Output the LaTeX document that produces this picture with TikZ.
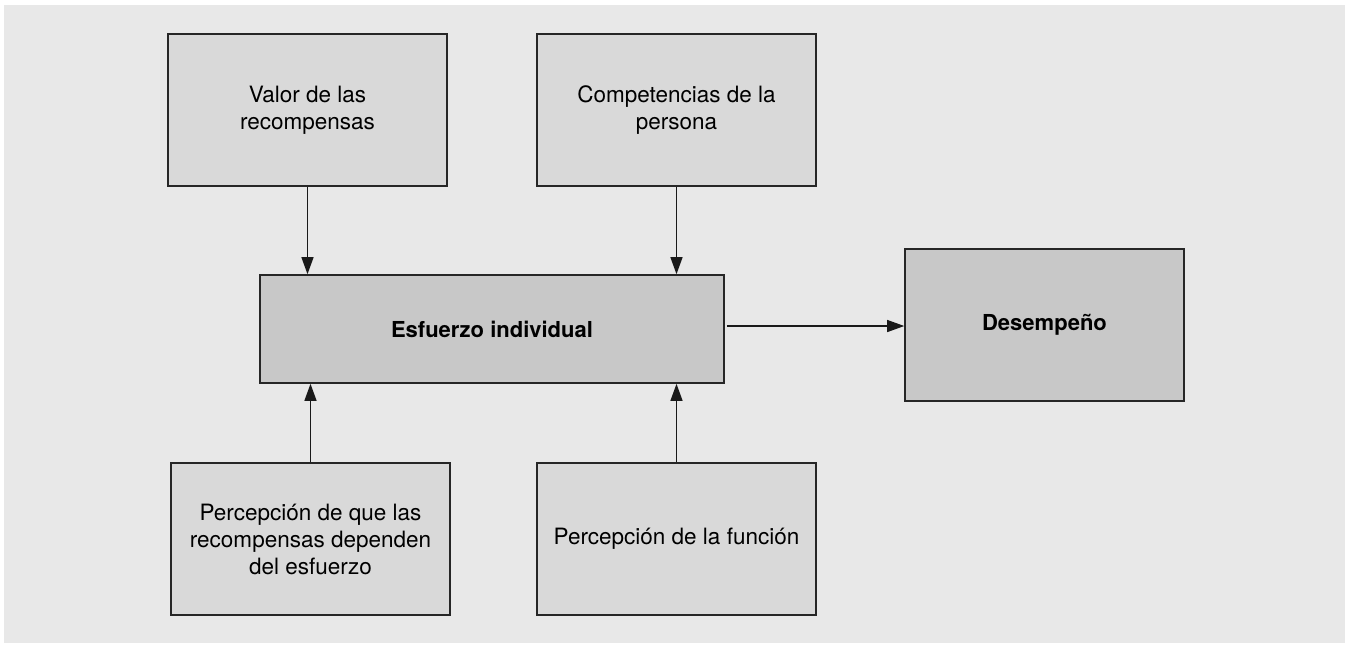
\documentclass[tikz,border=0pt]{standalone}
\usepackage{fontspec}
\setmainfont{TeX Gyre Heros}
\usepackage{tikz}
\usetikzlibrary{arrows.meta}

\definecolor{fondo}{HTML}{E8E8E8}
\definecolor{claro}{HTML}{D9D9D9}
\definecolor{oscuro}{HTML}{C8C8C8}

\tikzset{
  caja/.style={draw=black!85, line width=0.8pt, fill=claro, inner sep=0pt,
    minimum width=139.5pt, minimum height=76pt, align=center,
    font=\fontsize{11.25}{13.5}\selectfont},
  cajaosc/.style={caja, fill=oscuro, font=\fontsize{11}{13.5}\selectfont\bfseries},
  flecha/.style={-{Triangle[length=8.5pt,width=6pt]}, line width=0.6pt, draw=black!90}
}

\begin{document}
\begin{tikzpicture}[x=0.5pt,y=-0.5pt]
  \useasboundingbox (0,0) rectangle (1345,645);
  \fill[fondo] (4,5) rectangle (1345,643);
  % cajas superiores
  \node[caja] (V) at (307.5,110) {Valor de las\\recompensas};
  \node[caja] (C) at (676.5,110) {Competencias de la\\persona};
  % caja central y desempeno
  \node[cajaosc, minimum width=232pt, minimum height=54pt] (E) at (492,329) {Esfuerzo individual};
  \node[cajaosc] (D) at (1044.5,325) {Desempeño};
  % cajas inferiores
  \node[caja] (P) at (310.5,539) {Percepción de que las\\recompensas dependen\\del esfuerzo};
  \node[caja] (F) at (676.5,539) {Percepción de la función};
  % flechas
  \draw[flecha] (V.south) -- (V.south |- E.north);
  \draw[flecha] (C.south) -- (C.south |- E.north);
  \draw[flecha] (P.north) -- (P.north |- E.south);
  \draw[flecha] (F.north) -- (F.north |- E.south);
  \coordinate (Eo) at ([xshift=1pt]E.east |- 0,326);
  \draw[flecha] (Eo) -- (D.west |- Eo);
\end{tikzpicture}
\end{document}
